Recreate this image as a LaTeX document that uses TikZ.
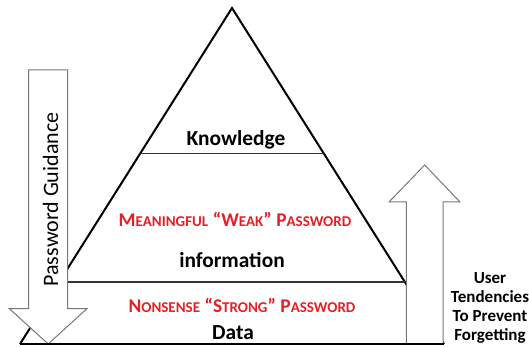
\documentclass[tikz,border=0pt]{standalone}
\usepackage{fontspec}
\setmainfont{Carlito}
\usetikzlibrary{calc}

\definecolor{pwred}{RGB}{228,32,36}
\definecolor{arrowgray}{RGB}{120,120,120}

% fake small caps: first letter full size, rest smaller
\newcommand{\pwsc}[2]{{\fontsize{9.7}{12}\selectfont #1}{\fontsize{7.5}{10}\selectfont #2}}

\tikzset{
  level/.style={font=\bfseries\fontsize{10.7}{13}\selectfont},
  pwtext/.style={text=pwred,font=\bfseries},
  hollow/.style={draw=arrowgray,line width=0.5pt,fill=white,line join=miter},
  edge/.style={line width=1pt,line join=miter},
  divide/.style={line width=0.8pt,draw=black!80}
}

\begin{document}
\begin{tikzpicture}[x=0.5pt,y=-0.5pt]

\useasboundingbox (0,0) rectangle (529,347);

%%%%%%%%%%%%%%%%%%%%%%%%%%%%%%%%%%%%%%%%%%%%%%%%%%
% Pyramid
%%%%%%%%%%%%%%%%%%%%%%%%%%%%%%%%%%%%%%%%%%%%%%%%%%

\coordinate (apex) at (232,8);
\coordinate (bl) at (20,344);
\coordinate (br) at (444,344);

\draw[edge] (bl)--(apex)--(br);

% Dividing lines
\draw[divide] ($(apex)!0.433!(bl)$)--($(apex)!0.433!(br)$);
\draw[divide] ($(apex)!0.815!(bl)$)--($(apex)!0.815!(br)$);

%%%%%%%%%%%%%%%%%%%%%%%%%%%%%%%%%%%%%%%%%%%%%%%%%%
% Arrows
%%%%%%%%%%%%%%%%%%%%%%%%%%%%%%%%%%%%%%%%%%%%%%%%%%

% Down arrow
\draw[hollow]
(28.6,70)--(67.7,70)--(67.7,308.7)--(86.9,308.7)
--(48.2,344)--(9.4,308.7)--(28.6,308.7)--cycle;

% Up arrow
\draw[hollow]
(406.4,344)--(406.4,202)--(389,202)--(424.7,165)
--(460,202)--(443,202)--(443,344)--cycle;

% Base
\draw[edge] (bl)--(br);

%%%%%%%%%%%%%%%%%%%%%%%%%%%%%%%%%%%%%%%%%%%%%%%%%%
% Labels
%%%%%%%%%%%%%%%%%%%%%%%%%%%%%%%%%%%%%%%%%%%%%%%%%%

\node[level] (know) at (236,140) {Knowledge};
\node[pwtext] (weak) at (235,219.5)
{\pwsc{M}{EANINGFUL} \pwsc{“W}{EAK}\pwsc{”}{} \pwsc{P}{ASSWORD}};
\node[level] (info) at (232,260) {information};
\node[pwtext] (strong) at (242,305)
{\pwsc{N}{ONSENSE} \pwsc{“S}{TRONG}\pwsc{”}{} \pwsc{P}{ASSWORD}};
\node[level] (data) at (233,333) {Data};

\node[rotate=90,font=\fontsize{11}{13}\selectfont] (guide) at (50.5,199.5)
{Password Guidance};

\node[align=center,font=\bfseries\fontsize{8.5}{9.5}\selectfont] (user) at (490,308)
{User\\Tendencies\\To Prevent\\Forgetting};

\end{tikzpicture}
\end{document}
